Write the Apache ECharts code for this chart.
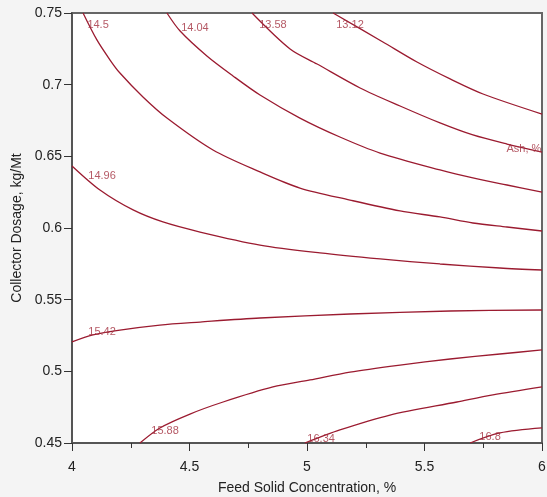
<!DOCTYPE html>
<html>
<head>
<meta charset="utf-8">
<script src="https://cdn.jsdelivr.net/npm/echarts@6/dist/echarts.min.js"></script>
<style>
html,body{margin:0;padding:0;background:#f4f4f4;}
#chart{width:547px;height:497px;}
</style>
</head>
<body>
<div id="chart"></div>
<script>
// Axis settings
const xTicks = [4, 4.5, 5, 5.5, 6];
const yTicks = [0.45, 0.5, 0.55, 0.6, 0.65, 0.7, 0.75];
const xTitle = 'Feed Solid Concentration, %';
const yTitle = 'Collector Dosage, kg/Mt';

// Contour lines (Ash, %) as [feed solid, collector dosage]
const c1312 = [[5.111,0.75],[5.323,0.7298],[5.468,0.7158],[5.609,0.704],[5.749,0.6935],[6.0,0.6795]];
const c1358 = [[4.766,0.75],[4.928,0.7249],[5.043,0.7144],[5.226,0.6977],[5.396,0.6851],[5.566,0.6733],[5.706,0.6649],[5.851,0.6586],[6.0,0.653]];
const c1404 = [[4.404,0.75],[4.460,0.7374],[4.574,0.72],[4.685,0.7061],[4.8,0.6928],[4.970,0.6767],[5.140,0.6635],[5.311,0.6523],[5.566,0.6405],[5.706,0.6349],[5.851,0.63],[6.0,0.6251]];
const c1450 = [[4.047,0.75],[4.106,0.7312],[4.162,0.7172],[4.204,0.7081],[4.302,0.6914],[4.404,0.6767],[4.6,0.6544],[4.8,0.6391],[4.970,0.6279],[5.183,0.6195],[5.396,0.6119],[5.566,0.6077],[5.706,0.6035],[5.851,0.6007],[6.0,0.5979]];
const c1496 = [[4.0,0.6433],[4.119,0.6265],[4.260,0.6126],[4.387,0.6042],[4.545,0.5972],[4.8,0.5881],[5.055,0.5826],[5.311,0.5784],[5.566,0.5749],[5.821,0.5721],[6.0,0.5707]];
const c1542 = [[4.0,0.5205],[4.089,0.5254],[4.204,0.5288],[4.374,0.5323],[4.545,0.5344],[4.8,0.5372],[5.183,0.54],[5.609,0.5421],[6.0,0.5428]];
const c1588 = [[4.289,0.45],[4.374,0.4605],[4.502,0.4702],[4.643,0.4786],[4.855,0.4891],[5.013,0.494],[5.183,0.4995],[5.396,0.5044],[5.609,0.5086],[5.821,0.5121],[6.0,0.5149]];
const c1634 = [[4.991,0.45],[5.140,0.4591],[5.353,0.4695],[5.638,0.4786],[5.791,0.4835],[6.0,0.4891]];
const c1680 = [[5.694,0.45],[5.821,0.457],[6.0,0.4605]];
const contours = [c1312, c1358, c1404, c1450, c1496, c1542, c1588, c1634, c1680];

// Contour labels
const labelText = ['14.5','14.04','13.58','13.12','Ash, %','14.96','15.42','15.88','16.34','16.8'];
const labelX = [4.111, 4.523, 4.855, 5.183, 5.923, 4.128, 4.128, 4.396, 5.06, 5.779];
const labelY = [0.7416, 0.7395, 0.7416, 0.7416, 0.6551, 0.6363, 0.5274, 0.4584, 0.4528, 0.4542];

const lineColor = '#9b1b30';
const textColor = '#a3303f';
const font = 'Liberation Sans, Arial, sans-serif';

const chart = echarts.init(document.getElementById('chart'), null, {renderer: 'canvas'});

const series = contours.map(d => ({
  type: 'line',
  data: d,
  showSymbol: false,
  symbol: 'none',
  smooth: 0.3,
  silent: true,
  clip: true,
  lineStyle: {color: lineColor, width: 1.3},
  z: 3
}));

series.push({
  type: 'scatter',
  data: labelX.map((x, i) => [x, labelY[i], labelText[i]]),
  symbolSize: 1,
  itemStyle: {color: 'rgba(0,0,0,0)'},
  silent: true,
  z: 5,
  label: {
    show: true,
    position: 'inside',
    formatter: p => p.data[2],
    color: textColor,
    fontSize: 11,
    fontFamily: font
  }
});

chart.setOption({
  animation: false,
  backgroundColor: '#f4f4f4',
  grid: {
    left: 72, top: 13, right: 5, bottom: 54,
    outerBoundsMode: 'none',
    containLabel: false,
    show: true,
    backgroundColor: '#ffffff',
    borderColor: '#666666',
    borderWidth: 2
  },
  xAxis: {
    type: 'value',
    min: xTicks[0],
    max: xTicks[xTicks.length - 1],
    interval: 0.5,
    name: xTitle,
    nameLocation: 'middle',
    nameGap: 38,
    nameTextStyle: {color: '#222', fontSize: 14, fontFamily: font},
    axisLine: {show: true, lineStyle: {color: '#555', width: 2}},
    axisTick: {show: true, inside: false, length: 8, lineStyle: {color: '#333'}},
    minorTick: {show: true, splitNumber: 2, length: 5, lineStyle: {color: '#333'}},
    splitLine: {show: false},
    axisLabel: {color: '#222', fontSize: 14, margin: 17, fontFamily: font,
      formatter: v => String(+v.toFixed(2))}
  },
  yAxis: {
    type: 'value',
    min: yTicks[0],
    max: yTicks[yTicks.length - 1],
    interval: 0.05,
    name: yTitle,
    nameLocation: 'middle',
    nameGap: 43,
    nameTextStyle: {color: '#222', fontSize: 14, fontFamily: font},
    axisLine: {show: true, lineStyle: {color: '#555', width: 2}},
    axisTick: {show: true, inside: false, length: 8, lineStyle: {color: '#333'}},
    splitLine: {show: false},
    axisLabel: {color: '#222', fontSize: 14, margin: 10, fontFamily: font,
      formatter: v => String(+v.toFixed(2))}
  },
  series: series
});
</script>
</body>
</html>
